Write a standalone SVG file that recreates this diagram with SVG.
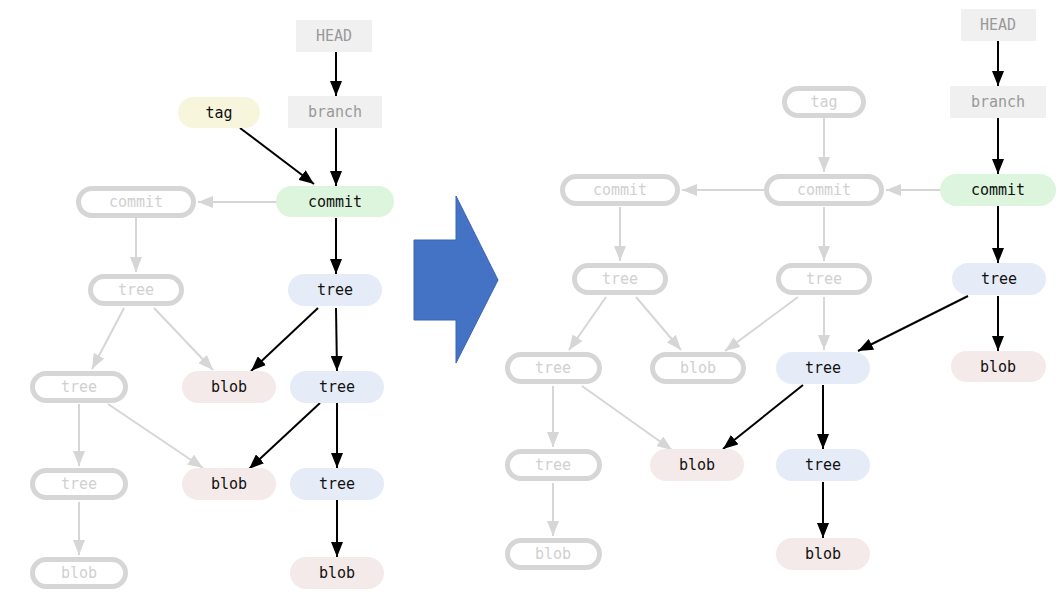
<svg xmlns="http://www.w3.org/2000/svg" width="1062" height="608" viewBox="0 0 1062 608">
<style>
text{font-family:"DejaVu Sans Mono","Liberation Mono",monospace;font-size:15px;text-anchor:middle;dominant-baseline:central}
.ref rect{fill:#f0f0f0}
.ref text{fill:#999}
.ghost rect{fill:#fff;stroke:#d6d6d6;stroke-width:5}
.ghost text{fill:#d0d0d0}
.com rect{fill:#dcf5dc}
.tre rect{fill:#e5ecf7}
.blb rect{fill:#f5eaea}
.tg rect{fill:#f8f5dd}
.com text,.tre text,.blb text,.tg text{fill:#111}
.k{stroke:#000;stroke-width:2;fill:none;marker-end:url(#ak)}
.g{stroke:#d6d6d6;stroke-width:2;fill:none;marker-end:url(#ag)}
</style>
<defs>
<marker id="ak" markerUnits="userSpaceOnUse" markerWidth="15" markerHeight="12" refX="15" refY="6" orient="auto"><path d="M0,0 L15,6 L0,12 z" fill="#000"/></marker>
<marker id="ag" markerUnits="userSpaceOnUse" markerWidth="15" markerHeight="12" refX="15" refY="6" orient="auto"><path d="M0,0 L15,6 L0,12 z" fill="#d6d6d6"/></marker>
</defs>
<rect width="1062" height="608" fill="#fff"/>

<g id="connectors">
<!-- left -->
<line class="k" x1="336" y1="52" x2="336" y2="96"/>
<line class="k" x1="336" y1="128" x2="336" y2="186"/>
<line class="k" x1="240" y1="128" x2="314" y2="184"/>
<line class="g" x1="276" y1="202" x2="198" y2="202"/>
<line class="g" x1="136" y1="218" x2="136" y2="272"/>
<line class="k" x1="336" y1="218" x2="336" y2="274"/>
<line class="g" x1="124" y1="308" x2="92" y2="369"/>
<line class="g" x1="154" y1="308" x2="213" y2="370"/>
<line class="k" x1="318" y1="308" x2="251" y2="371"/>
<line class="k" x1="336" y1="308" x2="337" y2="371"/>
<line class="g" x1="79" y1="404" x2="79" y2="466"/>
<line class="g" x1="108" y1="404" x2="203" y2="468"/>
<line class="k" x1="320" y1="403" x2="249" y2="469"/>
<line class="k" x1="337" y1="403" x2="337" y2="468"/>
<line class="g" x1="79" y1="502" x2="79" y2="555"/>
<line class="k" x1="337" y1="500" x2="337" y2="557"/>
<!-- right -->
<line class="k" x1="998" y1="41" x2="998" y2="86"/>
<line class="k" x1="998" y1="118" x2="998" y2="174"/>
<line class="g" x1="824" y1="118" x2="824" y2="172"/>
<line class="g" x1="940" y1="190" x2="886" y2="190"/>
<line class="g" x1="764" y1="190" x2="682" y2="190"/>
<line class="g" x1="620" y1="207" x2="620" y2="261"/>
<line class="g" x1="824" y1="207" x2="824" y2="261"/>
<line class="k" x1="998" y1="206" x2="998" y2="263"/>
<line class="g" x1="606" y1="297" x2="569" y2="350"/>
<line class="g" x1="636" y1="297" x2="681" y2="350"/>
<line class="g" x1="798" y1="297" x2="725" y2="351"/>
<line class="g" x1="824" y1="297" x2="824" y2="350"/>
<line class="k" x1="968" y1="296" x2="858" y2="351"/>
<line class="k" x1="998" y1="296" x2="998" y2="351"/>
<line class="g" x1="553" y1="386" x2="553" y2="447"/>
<line class="g" x1="582" y1="386" x2="672" y2="450"/>
<line class="k" x1="803" y1="385" x2="723" y2="449"/>
<line class="k" x1="823" y1="385" x2="823" y2="449"/>
<line class="g" x1="553" y1="483" x2="553" y2="536"/>
<line class="k" x1="823" y1="482" x2="823" y2="538"/>
</g>

<g id="big-arrow">
<polygon points="414,240 456,240 456,196 498,280 456,363 456,320 414,320" fill="#4472c4" stroke="#3a64b0" stroke-width="1"/>
</g>

<!-- left nodes -->
<g id="L-head" class="ref"><rect x="296" y="20" width="76" height="32"/><text x="334" y="36">HEAD</text></g>
<g id="L-branch" class="ref"><rect x="288" y="96" width="94" height="32"/><text x="335" y="112">branch</text></g>
<g id="L-tag" class="tg"><rect x="178" y="97" width="82" height="31" rx="15.5"/><text x="219" y="112.5">tag</text></g>
<g id="L-commit" class="com"><rect x="276" y="186" width="118" height="31" rx="15.5"/><text x="335" y="201.5">commit</text></g>
<g id="L-commit-old" class="ghost"><rect x="78.5" y="188.5" width="115" height="27" rx="13.5"/><text x="136" y="202">commit</text></g>
<g id="L-tree-old" class="ghost"><rect x="90.5" y="276.5" width="91" height="27" rx="13.5"/><text x="136" y="290">tree</text></g>
<g id="L-tree1" class="tre"><rect x="288" y="274" width="94" height="32" rx="16"/><text x="335" y="290">tree</text></g>
<g id="L-tree-old2" class="ghost"><rect x="32.5" y="373.5" width="93" height="27" rx="13.5"/><text x="79" y="387">tree</text></g>
<g id="L-blob1" class="blb"><rect x="182" y="371" width="94" height="32" rx="16"/><text x="229" y="387">blob</text></g>
<g id="L-tree2" class="tre"><rect x="290" y="371" width="94" height="32" rx="16"/><text x="337" y="387">tree</text></g>
<g id="L-tree-old3" class="ghost"><rect x="32.5" y="470.5" width="93" height="27" rx="13.5"/><text x="79" y="484">tree</text></g>
<g id="L-blob2" class="blb"><rect x="182" y="468" width="94" height="32" rx="16"/><text x="229" y="484">blob</text></g>
<g id="L-tree3" class="tre"><rect x="290" y="468" width="94" height="32" rx="16"/><text x="337" y="484">tree</text></g>
<g id="L-blob-old" class="ghost"><rect x="32.5" y="559.5" width="93" height="27" rx="13.5"/><text x="79" y="573">blob</text></g>
<g id="L-blob3" class="blb"><rect x="290" y="557" width="94" height="32" rx="16"/><text x="337" y="573">blob</text></g>

<!-- right nodes -->
<g id="R-head" class="ref"><rect x="961" y="9" width="75" height="32"/><text x="998" y="25">HEAD</text></g>
<g id="R-branch" class="ref"><rect x="950" y="86" width="96" height="32"/><text x="998" y="102">branch</text></g>
<g id="R-tag" class="ghost"><rect x="784.5" y="88.5" width="79" height="27" rx="13.5"/><text x="824" y="102">tag</text></g>
<g id="R-commit-old2" class="ghost"><rect x="562.5" y="176.5" width="115" height="27" rx="13.5"/><text x="620" y="190">commit</text></g>
<g id="R-commit-old1" class="ghost"><rect x="766.5" y="176.5" width="115" height="27" rx="13.5"/><text x="824" y="190">commit</text></g>
<g id="R-commit" class="com"><rect x="940" y="174" width="116" height="32" rx="16"/><text x="998" y="190">commit</text></g>
<g id="R-tree-old1" class="ghost"><rect x="574.5" y="265.5" width="91" height="27" rx="13.5"/><text x="620" y="279">tree</text></g>
<g id="R-tree-old2" class="ghost"><rect x="778.5" y="265.5" width="91" height="27" rx="13.5"/><text x="824" y="279">tree</text></g>
<g id="R-tree1" class="tre"><rect x="952" y="263" width="94" height="32" rx="16"/><text x="999" y="279">tree</text></g>
<g id="R-tree-old3" class="ghost"><rect x="507.5" y="354.5" width="92" height="27" rx="13.5"/><text x="553" y="368">tree</text></g>
<g id="R-blob-old1" class="ghost"><rect x="652.5" y="354.5" width="91" height="27" rx="13.5"/><text x="698" y="368">blob</text></g>
<g id="R-tree2" class="tre"><rect x="776" y="352" width="94" height="32" rx="16"/><text x="823" y="368">tree</text></g>
<g id="R-blob1" class="blb"><rect x="951" y="351" width="95" height="31" rx="15.5"/><text x="998" y="366.5">blob</text></g>
<g id="R-tree-old4" class="ghost"><rect x="507.5" y="451.5" width="92" height="27" rx="13.5"/><text x="553" y="465">tree</text></g>
<g id="R-blob2" class="blb"><rect x="650" y="449" width="94" height="32" rx="16"/><text x="697" y="465">blob</text></g>
<g id="R-tree3" class="tre"><rect x="776" y="449" width="94" height="32" rx="16"/><text x="823" y="465">tree</text></g>
<g id="R-blob-old2" class="ghost"><rect x="507.5" y="540.5" width="92" height="27" rx="13.5"/><text x="553" y="554">blob</text></g>
<g id="R-blob3" class="blb"><rect x="776" y="538" width="94" height="32" rx="16"/><text x="823" y="554">blob</text></g>
</svg>
